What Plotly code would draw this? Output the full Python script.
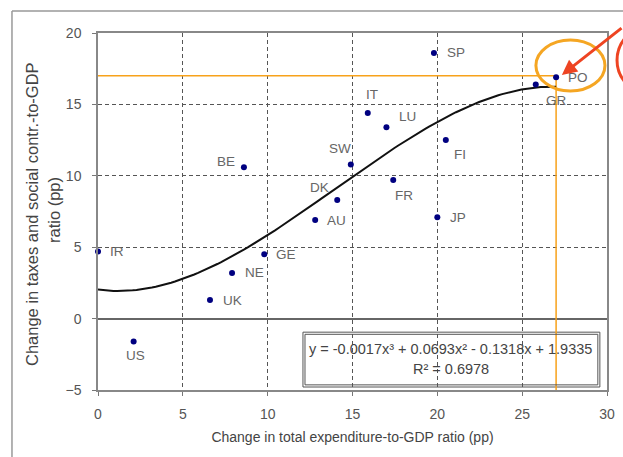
import numpy as np
import plotly.graph_objects as go

countries = ["IR", "US", "UK", "NE", "GE", "BE", "AU", "DK", "SW", "IT",
             "LU", "FR", "FI", "JP", "SP", "GR", "PO"]
expenditure = [0.0, 2.1, 6.6, 7.9, 9.8, 8.6, 12.8, 14.1, 14.9, 15.9,
               17.0, 17.4, 20.5, 20.0, 19.8, 25.8, 27.0]
taxes = [4.7, -1.6, 1.3, 3.2, 4.5, 10.6, 6.9, 8.3, 10.8, 14.4,
         13.4, 9.7, 12.5, 7.1, 18.6, 16.4, 16.9]
x_ticks = [0, 5, 10, 15, 20, 25, 30]
y_ticks = [-5, 0, 5, 10, 15, 20]
highlight_x = 27.0
highlight_y = 17.0
eq_line1 = "y = -0.0017x³ + 0.0693x² - 0.1318x + 1.9335"
eq_line2 = "R² = 0.6978"
x_title = "Change in total expenditure-to-GDP ratio (pp)"
y_title_1 = "Change in taxes and social contr.-to-GDP"
y_title_2 = "ratio (pp)"

# label placement (style): anchor, x shift px, y shift px
label_style = {
    "IR": ("left", 10, 0), "US": ("center", 2, -14), "UK": ("left", 11, 0),
    "NE": ("left", 11, 0), "GE": ("left", 10, 0), "BE": ("right", -7, 6),
    "AU": ("left", 10, 0), "DK": ("right", -6, 13), "SW": ("right", 2, 16),
    "IT": ("center", 4, 18), "LU": ("left", 11, 11), "FR": ("left", 0, -15),
    "FI": ("left", 6, -14), "JP": ("left", 11, 0), "SP": ("left", 11, 0),
    "GR": ("left", 8, -16), "PO": ("left", 10, 0),
}

# cubic trendline fitted from the data (like a spreadsheet trendline)
coef = np.polyfit(expenditure, taxes, 3)
fit_x = np.linspace(0, 27, 120)
fit_y = np.polyval(coef, fit_x)

FONT = "Liberation Sans, Arial, sans-serif"

fig = go.Figure()

# orange guide lines
fig.add_trace(go.Scatter(x=[-0.2, highlight_x, highlight_x], y=[highlight_y, highlight_y, -5],
                         mode="lines", line=dict(color="#F7A21B", width=1.5),
                         hoverinfo="skip", showlegend=False, cliponaxis=False))

fig.add_trace(go.Scatter(x=fit_x, y=fit_y, mode="lines",
                         line=dict(color="#111111", width=2), showlegend=False))

fig.add_trace(go.Scatter(x=expenditure, y=taxes, mode="markers",
                         marker=dict(color="#000080", size=6),
                         showlegend=False, cliponaxis=False))

shapes = []
# equation box (double border)
shapes.append(dict(type="rect", xref="x", yref="y", x0=12.08, x1=29.58, y0=-4.79, y1=-0.95,
                   line=dict(color="#555555", width=1), fillcolor="white", layer="below"))
shapes.append(dict(type="rect", xref="x", yref="y", x0=12.2, x1=29.46, y0=-4.64, y1=-1.1,
                   line=dict(color="#555555", width=1), layer="above"))
# orange circle
shapes.append(dict(type="circle", xref="x", yref="y", x0=25.81, x1=29.88, y0=15.94, y1=19.51,
                   line=dict(color="#F5A623", width=3)))
# red partial circle at the right edge
shapes.append(dict(type="circle", xref="paper", yref="paper", x0=1.0197, x1=1.163,
                   y0=0.826, y1=1.022, line=dict(color="#EE4422", width=3)))
# outer frame lines
shapes.append(dict(type="line", xref="paper", yref="paper", x0=-0.169, x1=1.1,
                   y0=1.0616, y1=1.0616, line=dict(color="#999999", width=1.5)))
shapes.append(dict(type="line", xref="paper", yref="paper", x0=-0.169, x1=-0.169,
                   y0=1.0616, y1=-0.2, line=dict(color="#999999", width=1.5)))

annotations = []
for name, xv, yv in zip(countries, expenditure, taxes):
    anchor, dx, dy = label_style[name]
    annotations.append(dict(x=xv, y=yv, xref="x", yref="y", text=name, showarrow=False,
                            xanchor=anchor, yanchor="middle", xshift=dx, yshift=dy,
                            font=dict(family=FONT, size=13.5, color="#666666")))
annotations += [
    dict(x=20.8, y=-2.1, xref="x", yref="y", text=eq_line1, showarrow=False,
         font=dict(family=FONT, size=14.5, color="#444444")),
    dict(x=20.8, y=-3.55, xref="x", yref="y", text=eq_line2, showarrow=False,
         font=dict(family=FONT, size=14.5, color="#444444")),
    dict(x=27.34, y=17.06, xref="x", yref="y", ax=63, ay=-48, text="", showarrow=True,
         arrowhead=2, arrowsize=1, arrowwidth=3, arrowcolor="#EE4422"),
    dict(x=(32 - 98) / 509, y=(390 - 214) / 357, xref="paper", yref="paper",
         xanchor="center", yanchor="middle", textangle=-90, showarrow=False,
         text=y_title_1, font=dict(family=FONT, size=16.5, color="#444444")),
    dict(x=(54 - 98) / 509, y=(390 - 210) / 357, xref="paper", yref="paper",
         xanchor="center", yanchor="middle", textangle=-90, showarrow=False,
         text=y_title_2, font=dict(family=FONT, size=16.5, color="#444444")),
]

fig.update_layout(
    width=623, height=457,
    margin=dict(l=98, r=16, t=33, b=67),
    paper_bgcolor="white", plot_bgcolor="white",
    font=dict(family=FONT, size=12, color="#444444"),
    shapes=shapes, annotations=annotations,
    xaxis=dict(range=[0, 30], tickvals=x_ticks, showgrid=True, gridcolor="#555555",
               griddash="4px,3px", gridwidth=1, zeroline=False, showline=True,
               linecolor="#888888", linewidth=1.5, mirror=True, ticks="outside",
               ticklen=4, tickcolor="#777777", ticklabelstandoff=6, automargin=False,
               tickfont=dict(size=14, color="#555555"),
               title=dict(text=x_title, font=dict(size=14, color="#444444"), standoff=12)),
    yaxis=dict(range=[-5, 20], tickvals=y_ticks, showgrid=True, gridcolor="#555555",
               griddash="4px,3px", gridwidth=1, zeroline=True, zerolinecolor="#666666",
               zerolinewidth=1.5, showline=True, linecolor="#888888", linewidth=1.5,
               mirror=True, ticks="outside", ticklen=4, tickcolor="#777777",
               ticklabelstandoff=8, automargin=False,
               tickfont=dict(size=14, color="#555555")),
)

fig.write_html("out.html", config={"displayModeBar": False},
               post_script="document.body.style.margin='0px';")
